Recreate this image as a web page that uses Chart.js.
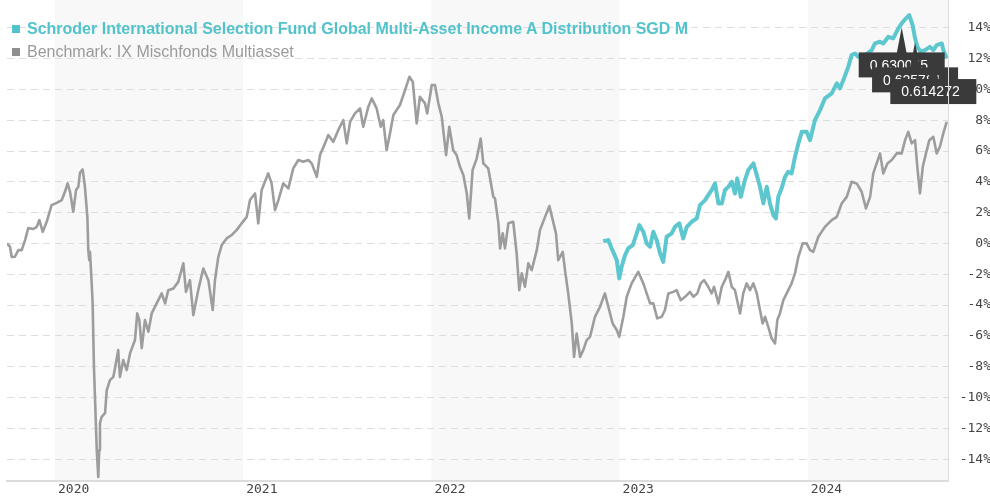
<!DOCTYPE html>
<html><head><meta charset="utf-8">
<script src="https://cdn.jsdelivr.net/npm/chart.js@4.4.1/dist/chart.umd.min.js"></script>
<style>
html,body{margin:0;padding:0;overflow:hidden;background:#fff;width:990px;height:500px}
#wrap{position:relative;width:991px;height:500px}
#legend{position:absolute;left:0;top:0;font-family:'Liberation Sans',Arial,sans-serif;font-size:16px;pointer-events:none}
.li{position:absolute;left:12px;height:20px;line-height:20px;white-space:nowrap}
.li .sw{position:absolute;left:0;top:6px;width:8px;height:8px}
.li .tx{position:absolute;left:15px;top:0}
</style></head><body>
<div id="wrap"><canvas id="c" width="991" height="500"></canvas><div id="legend"></div></div>
<script>
// ---- data (x = decimal year, y = performance in %) ----
const seriesNames = ['Schroder International Selection Fund Global Multi-Asset Income A Distribution SGD M','Benchmark: IX Mischfonds Multiasset'];
const yearTicks = [2020, 2021, 2022, 2023, 2024];
const shadedYears = [2020, 2022, 2024];
const yTicks = [-14,-12,-10,-8,-6,-4,-2,0,2,4,6,8,10,12,14];

const benchX = [
2019.745,2019.761,2019.770,2019.787,2019.805,2019.823,2019.841,2019.858,2019.885,2019.903,
2019.917,2019.935,2019.956,2019.982,2020.009,2020.036,2020.053,2020.067,2020.080,2020.097,
2020.112,2020.124,2020.133,2020.147,2020.159,2020.172,2020.177,2020.182,2020.186,2020.195,
2020.200,2020.207,2020.213,2020.222,2020.230,2020.235,2020.239,2020.248,2020.266,2020.275,
2020.292,2020.310,2020.319,2020.336,2020.345,2020.363,2020.381,2020.399,2020.425,2020.437,
2020.448,2020.461,2020.478,2020.496,2020.514,2020.540,2020.567,2020.585,2020.602,2020.629,
2020.655,2020.682,2020.696,2020.717,2020.735,2020.761,2020.788,2020.815,2020.838,2020.850,
2020.868,2020.886,2020.912,2020.939,2020.965,2020.992,2021.019,2021.036,2021.063,2021.080,
2021.098,2021.133,2021.151,2021.169,2021.187,2021.213,2021.240,2021.266,2021.293,2021.319,
2021.346,2021.364,2021.391,2021.408,2021.435,2021.452,2021.479,2021.505,2021.532,2021.550,
2021.568,2021.594,2021.621,2021.638,2021.665,2021.683,2021.709,2021.731,2021.744,2021.762,
2021.780,2021.798,2021.833,2021.860,2021.883,2021.901,2021.922,2021.939,2021.966,2021.978,
2022.002,2022.019,2022.037,2022.055,2022.078,2022.095,2022.116,2022.134,2022.152,2022.170,
2022.188,2022.201,2022.219,2022.241,2022.262,2022.276,2022.302,2022.329,2022.338,2022.356,
2022.365,2022.379,2022.391,2022.409,2022.435,2022.453,2022.467,2022.480,2022.497,2022.515,
2022.533,2022.560,2022.577,2022.604,2022.627,2022.645,2022.662,2022.674,2022.698,2022.710,
2022.727,2022.746,2022.758,2022.772,2022.790,2022.807,2022.825,2022.843,2022.869,2022.896,
2022.922,2022.940,2022.963,2022.985,2022.998,2023.020,2023.038,2023.064,2023.099,2023.126,
2023.162,2023.179,2023.200,2023.224,2023.241,2023.259,2023.285,2023.303,2023.325,2023.348,
2023.374,2023.392,2023.413,2023.431,2023.449,2023.471,2023.489,2023.502,2023.525,2023.543,
2023.560,2023.578,2023.596,2023.613,2023.640,2023.657,2023.675,2023.693,2023.711,2023.729,
2023.746,2023.760,2023.773,2023.790,2023.808,2023.826,2023.838,2023.852,2023.870,2023.888,
2023.914,2023.932,2023.950,2023.973,2023.994,2024.012,2024.029,2024.056,2024.091,2024.127,
2024.154,2024.180,2024.207,2024.233,2024.260,2024.286,2024.309,2024.331,2024.348,2024.366,
2024.384,2024.401,2024.423,2024.446,2024.472,2024.499,2024.517,2024.534,2024.552,2024.570,
2024.582,2024.596,2024.611,2024.628,2024.646,2024.667,2024.685,2024.702,2024.720,2024.738];

const benchY = [
0.00,-0.21,-0.88,-0.86,-0.43,-0.43,0.22,1.00,0.94,1.08,
1.52,0.76,1.41,2.49,2.64,2.82,3.36,3.90,3.36,2.06,
3.47,3.68,4.59,4.81,3.68,1.73,-0.43,-1.08,-0.54,-2.59,
-3.89,-8.01,-10.17,-13.42,-15.15,-13.42,-11.66,-11.25,-11.01,-9.52,
-8.87,-8.66,-8.09,-6.92,-8.66,-7.57,-8.22,-7.12,-6.27,-4.54,
-4.97,-6.79,-4.97,-5.73,-4.54,-3.89,-3.24,-3.89,-3.03,-2.92,
-2.49,-1.29,-3.14,-2.38,-4.65,-3.03,-1.62,-2.38,-4.32,-2.38,
-0.86,-0.10,0.33,0.55,0.87,1.31,1.73,2.82,3.25,1.31,
3.47,4.55,3.90,2.17,2.82,3.90,3.58,4.88,5.42,5.31,
5.42,5.20,4.33,5.74,6.50,7.04,6.60,7.36,8.01,6.50,
7.90,8.45,8.77,7.58,8.88,9.42,8.77,7.58,8.01,6.06,
7.15,8.34,8.99,9.96,10.82,10.50,7.80,9.53,9.10,8.45,
10.29,10.29,9.10,8.23,5.74,7.58,6.06,5.74,4.98,4.44,
3.25,1.63,4.77,5.53,6.82,5.20,4.88,3.03,2.93,1.31,
-0.32,0.66,-0.32,1.31,1.41,-0.64,-3.03,-1.94,-2.81,-1.29,
-1.73,-0.43,0.87,1.73,2.43,1.52,0.66,-1.08,-0.54,-1.73,
-3.24,-5.19,-7.36,-5.84,-7.36,-6.92,-6.27,-6.06,-4.76,-4.11,
-3.24,-4.11,-5.19,-5.62,-6.06,-4.76,-3.46,-2.59,-1.84,-2.59,
-3.89,-3.89,-4.86,-4.76,-4.32,-3.24,-3.14,-3.03,-3.68,-3.46,
-3.14,-3.46,-3.24,-2.59,-2.38,-2.81,-3.24,-2.81,-3.89,-2.81,
-2.38,-1.84,-2.81,-3.03,-4.54,-3.24,-2.59,-3.03,-2.59,-3.24,
-4.32,-5.19,-4.76,-5.41,-6.16,-6.49,-4.97,-4.54,-3.68,-3.24,
-2.59,-1.94,-0.86,0.01,0.01,-0.43,-0.54,0.44,1.08,1.52,
1.73,2.60,3.03,4.01,3.90,3.36,2.28,3.03,4.55,5.20,
5.85,4.55,5.20,5.42,5.85,5.85,6.71,7.25,6.50,6.71,
4.98,3.25,4.98,5.85,6.71,6.93,5.85,6.28,7.15,7.90];

const fundX = [
2022.913,2022.940,2022.958,2022.985,2022.998,2023.011,2023.029,2023.046,2023.070,2023.091,
2023.105,2023.126,2023.144,2023.162,2023.179,2023.197,2023.215,2023.232,2023.250,2023.277,
2023.294,2023.317,2023.338,2023.357,2023.383,2023.410,2023.427,2023.454,2023.471,2023.489,
2023.507,2023.525,2023.543,2023.560,2023.578,2023.596,2023.613,2023.625,2023.644,2023.666,
2023.684,2023.711,2023.729,2023.746,2023.764,2023.782,2023.799,2023.817,2023.831,2023.843,
2023.861,2023.879,2023.896,2023.914,2023.932,2023.950,2023.968,2023.994,2024.012,2024.038,
2024.065,2024.091,2024.127,2024.154,2024.171,2024.189,2024.215,2024.233,2024.251,2024.268,
2024.304,2024.340,2024.357,2024.384,2024.401,2024.428,2024.454,2024.481,2024.499,2024.522,
2024.539,2024.557,2024.570,2024.582,2024.600,2024.623,2024.649,2024.667,2024.685,2024.712,
2024.720,2024.738];

const fundY = [
0.15,0.22,-0.32,-1.08,-2.27,-1.51,-0.75,-0.32,-0.10,0.66,
1.19,0.76,0.01,-0.21,0.76,0.22,-0.64,-1.19,0.44,0.66,
1.08,1.31,0.33,1.08,1.41,1.63,2.49,2.82,3.14,3.47,
3.90,2.60,2.60,3.47,3.68,4.01,3.25,4.23,3.03,4.12,
4.77,5.20,4.44,3.68,2.60,3.68,2.60,1.84,1.63,3.03,
3.58,4.33,4.66,4.55,5.63,6.50,7.25,7.25,6.71,8.01,
8.66,9.42,9.75,10.40,10.07,10.61,11.47,12.23,12.34,12.12,
12.23,12.56,12.99,13.10,12.99,13.42,13.32,13.97,14.29,14.62,
14.83,14.18,13.32,12.77,12.45,12.56,12.77,12.56,12.88,12.99,
12.56,12.02];

// hover tooltips visible in the picture (fund prices)
const tipTexts = ['0.630045', '0.625781', '0.614272'];
const tipDates = [2024.499, 2024.570, 2024.667];

const lineColors = ['#5cc7ce', '#9d9d9d'];
const legendText = ['#52c3cb', '#9a9a9a'];
const legendSwatch = ['#52c3cb', '#8e8e8e'];

// ---- plugins ----
const bands = {
  id: 'bands',
  beforeDraw(c) {
    const {ctx, chartArea: a, scales: {x}} = c;
    ctx.save();
    ctx.fillStyle = '#f8f8f8';
    shadedYears.forEach(yr => {
      const l = Math.max(a.left, x.getPixelForValue(yr));
      const r = Math.min(a.right, x.getPixelForValue(yr + 1));
      if (r > l) ctx.fillRect(l, a.top, r - l, a.bottom - a.top);
    });
    ctx.restore();
  }
};

const tips = {
  id: 'tips',
  afterDatasetsDraw(c) {
    const {ctx} = c;
    const meta = c.getDatasetMeta(0);
    ctx.save();
    tipDates.forEach((d, i) => {
      let best = 0;
      fundX.forEach((v, j) => { if (Math.abs(v - d) < Math.abs(fundX[best] - d)) best = j; });
      const p = meta.data[best];
      const px = p.x, py = p.y;
      const bx = px - 43, by = py + 29, bw = 86, bh = 25;
      ctx.fillStyle = '#3a3a3a';
      ctx.beginPath();
      ctx.moveTo(px - 5, by + 1); ctx.lineTo(px, py + 4); ctx.lineTo(px + 5, by + 1);
      ctx.closePath(); ctx.fill();
      ctx.fillRect(bx, by, bw, bh);
      ctx.fillStyle = '#ffffff';
      ctx.font = '14px "Liberation Sans", Arial, sans-serif';
      ctx.textBaseline = 'middle';
      ctx.textAlign = 'left';
      ctx.fillText(tipTexts[i], bx + 11, by + bh / 2 + 1);
    });
    // plot border on the right is seen crossing the last tooltip
    const a = c.chartArea;
    ctx.strokeStyle = '#dcdcdc';
    ctx.lineWidth = 1;
    ctx.beginPath();
    ctx.moveTo(a.right + 0.5, a.top);
    ctx.lineTo(a.right + 0.5, a.bottom);
    ctx.stroke();
    ctx.restore();
  }
};

const htmlLegend = {
  id: 'htmlLegend',
  afterUpdate(c) {
    const box = document.getElementById('legend');
    box.innerHTML = '';
    c.data.datasets.forEach((ds, i) => {
      const row = document.createElement('div');
      row.className = 'li';
      row.style.top = (19 + i * 23) + 'px';
      const sw = document.createElement('span');
      sw.className = 'sw';
      sw.style.background = legendSwatch[i];
      const tx = document.createElement('span');
      tx.className = 'tx';
      tx.textContent = ds.label;
      tx.style.color = legendText[i];
      tx.style.fontWeight = i === 0 ? 'bold' : 'normal';
      row.append(sw, tx);
      box.append(row);
    });
  }
};

const monoFont = {family: '"DejaVu Sans Mono", monospace', size: 13};
const noPad = s => { s.paddingTop = 0; s.paddingBottom = 0; s.paddingLeft = 0; s.paddingRight = 0; };

new Chart(document.getElementById('c'), {
  type: 'line',
  data: {
    datasets: [
      {label: seriesNames[0], data: fundX.map((x, i) => ({x, y: fundY[i]})),
       borderColor: lineColors[0], backgroundColor: lineColors[0], borderWidth: 4,
       pointRadius: 0, tension: 0, fill: false, borderJoinStyle: 'round'},
      {label: seriesNames[1], data: benchX.map((x, i) => ({x, y: benchY[i]})),
       borderColor: lineColors[1], backgroundColor: lineColors[1], borderWidth: 2.6,
       pointRadius: 0, tension: 0, fill: false, borderJoinStyle: 'round'}
    ]
  },
  options: {
    responsive: false,
    animation: false,
    devicePixelRatio: 1,
    events: [],
    layout: {padding: {left: 7, top: 0, right: 0, bottom: 0}},
    plugins: {legend: {display: false}, tooltip: {enabled: false}},
    scales: {
      x: {
        type: 'linear', min: 2019.745, max: 2024.745,
        grid: {display: false, drawTicks: false},
        border: {display: true, color: '#dcdcdc', width: 2},
        afterBuildTicks: s => { s.ticks = yearTicks.map(v => ({value: v})); },
        afterFit: s => { s.height = 19; noPad(s); },
        ticks: {align: 'start', labelOffset: 3, padding: 1, autoSkip: false, maxRotation: 0,
                color: '#444', font: monoFont, callback: v => String(v)}
      },
      y: {
        position: 'right', min: -15.42, max: 15.81,
        afterBuildTicks: s => { s.ticks = yTicks.map(v => ({value: v})); },
        afterFit: s => { s.width = 43; noPad(s); },
        grid: {color: '#dddddd', drawTicks: false, lineWidth: 1},
        border: {display: true, color: '#dcdcdc', width: 1, dash: [7, 5]},
        ticks: {crossAlign: 'far', padding: 0, color: '#444', font: monoFont,
                callback: v => v + '%'}
      }
    }
  },
  plugins: [bands, tips, htmlLegend]
});
</script>
</body></html>
